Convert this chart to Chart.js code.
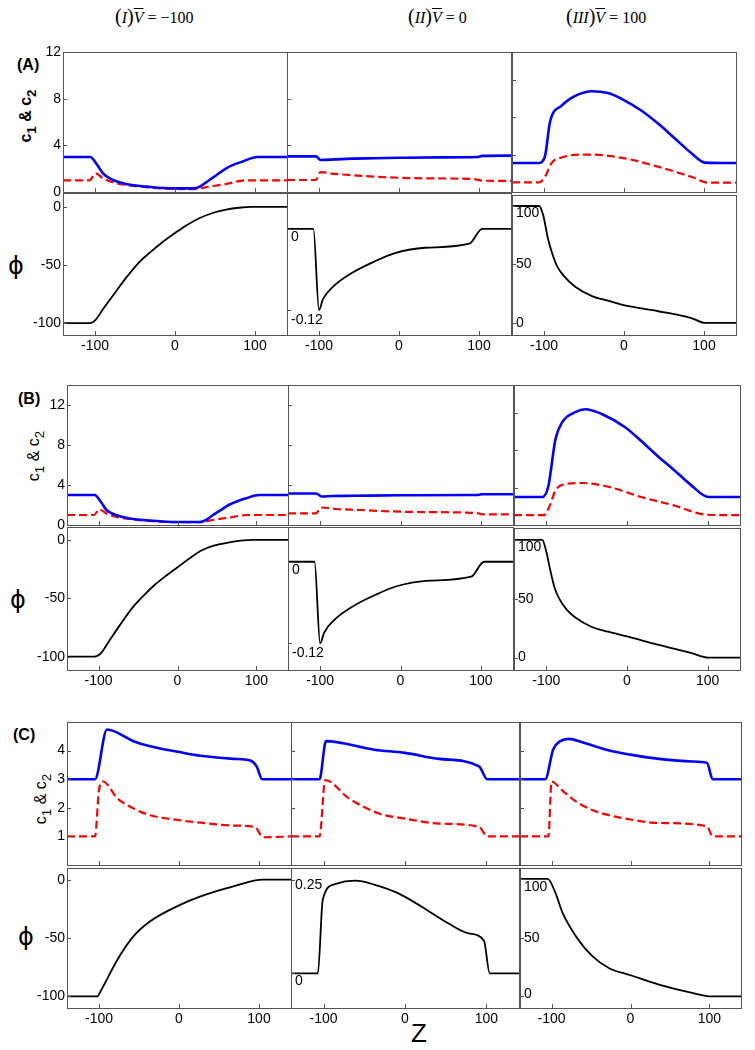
<!DOCTYPE html>
<html lang="en">
<head>
  <meta charset="UTF-8">
  <title>c1, c2 and phi profiles</title>
  <script src="https://cdn.jsdelivr.net/npm/chart.js"></script>
  <style>
    body { margin: 0; background: #fff; }
    #fig { position: relative; width: 755px; height: 1050px; }
    #fig canvas { position: absolute; }
    .ttl { position: absolute; font-family: 'Liberation Serif', 'Times New Roman', serif; font-size: 16px; white-space: nowrap; }
    .ttl .p { font-size: 20px; }
    .ttl .v { text-decoration: overline; }
    .tag { position: absolute; font: bold 16px 'Liberation Sans', Arial, sans-serif; }
    .rot { position: absolute; white-space: nowrap; font-family: 'Liberation Sans', Arial, sans-serif; font-size: 16px;
           transform: translate(-50%, -50%) rotate(-90deg); }
    .phi { position: absolute; font: 24px 'DejaVu Sans', 'Liberation Sans', sans-serif; transform: translate(-50%, -50%); }
  </style>
</head>
<body>
<div id="fig">
  <div class="ttl" style="left:115px;top:5px"><span class="p">(</span><i>I</i><span class="p">)</span><i class="v">V</i> = −100</div>
  <div class="ttl" style="left:408px;top:5px"><span class="p">(</span><i>II</i><span class="p">)</span><i class="v">V</i> = 0</div>
  <div class="ttl" style="left:566px;top:5px"><span class="p">(</span><i>III</i><span class="p">)</span><i class="v">V</i> = 100</div>

  <div class="tag" style="left:17px;top:56px">(A)</div>
  <div class="tag" style="left:18px;top:390px">(B)</div>
  <div class="tag" style="left:13px;top:726px">(C)</div>

  <div class="rot" style="left:28px;top:116px;font-weight:bold">c<sub>1</sub> &amp; c<sub>2</sub></div>
  <div class="rot" style="left:36px;top:456px">c<sub>1</sub> &amp; c<sub>2</sub></div>
  <div class="rot" style="left:43px;top:799px">c<sub>1</sub> &amp; c<sub>2</sub></div>

  <div class="phi" style="left:16px;top:266px">ϕ</div>
  <div class="phi" style="left:18px;top:600px">ϕ</div>
  <div class="phi" style="left:26px;top:937px">ϕ</div>

  <div style="position:absolute;left:411px;top:1018px;font:26px 'Liberation Sans',Arial,sans-serif">Z</div>
</div>

<script>
  // axis ticks
  const Z_RANGE = [-140, 140];
  const Z_TICKS = [-100, 0, 100];
  const C_TICKS_AB = [0, 4, 8, 12];
  const C_TICKS_C = [1, 2, 3, 4];
  const PHI_TICKS_I = [0, -50, -100];
  const PHI_TICKS_II_AB = [0, -0.12];
  const PHI_LABELS_II_AB = ['0', '-0.12'];
  const PHI_TICKS_II_C = [0.25, 0];
  const PHI_LABELS_II_C = ['0.25', '0'];
  const PHI_TICKS_III = [100, 50, 0];
  const PHI_LABELS_III = ['100', '50', '0'];

  // (A) series, [z, value]
  const A1_c1 = [[-140,3],[-106,3],[-97,2.3],[-90,1.6],[-80,1.1],[-60,0.66],[-35,0.46],[-2,0.31],[23,0.31],[31,0.46],[43,1.03],[52,1.46],[64,2.03],[72,2.3],[84,2.6],[103,3],[140,3]];
  const A1_c2 = [[-140,1],[-107,1],[-99,1.6],[-90,1.17],[-80,0.88],[-60,0.6],[-35,0.4],[-2,0.26],[23,0.25],[43,0.46],[64,0.69],[88,1.0],[105,1.0],[140,1]];
  const A1_phi = [[-140,-100],[-106,-100],[-99,-97],[-90,-88],[-73,-72],[-60,-60],[-44,-47],[-30,-38.5],[-15,-30],[0,-22.5],[15,-15.5],[31,-9.5],[48,-5],[64,-2.3],[80,-0.7],[95,0],[140,0]];
  const A2_c1 = [[-140,3.05],[-104,3.05],[-98,2.74],[-79,2.8],[-59,2.86],[-30,2.89],[0,2.93],[50,2.97],[98,3.0],[104,3.1],[140,3.12]];
  const A2_c2 = [[-140,1.03],[-104,1.03],[-98,1.7],[-80,1.55],[-60,1.45],[-30,1.31],[30,1.17],[94,1.11],[104,0.97],[140,0.95]];
  const A2_phi = [[-140,0],[-107,0],[-100,-0.12],[-95,-0.104],[-82,-0.085],[-60,-0.066],[-30,-0.048],[-5,-0.036],[32,-0.028],[88,-0.022],[104,0],[140,0]];
  const A3_c1 = [[-140,3.1],[-107,3.1],[-99,3.75],[-92.5,7.5],[-78,9.25],[-61,10.3],[-40,10.8],[-20,10.6],[1,9.8],[22,8.7],[43,7.3],[64,5.7],[85,4.1],[101,3.15],[140,3.1]];
  const A3_c2 = [[-140,1.03],[-106,1.03],[-99,1.6],[-90.5,3.1],[-78,3.7],[-53,4.0],[-40,4.0],[1,3.6],[43,2.7],[85,1.6],[105,1.0],[140,1.0]];
  const A3_phi = [[-140,100],[-106,100],[-101,92],[-95,72],[-90,60],[-84,49],[-75,40],[-61,31],[-40,23],[-20,19],[1,15],[43,10],[85,4],[101,0],[140,0]];

  // (B) series
  const B1_c1 = [[-140,3],[-105,3],[-97,2.3],[-90,1.5],[-80,1.05],[-60,0.65],[-35,0.45],[-2,0.3],[28,0.3],[35,0.45],[45,1.0],[55,1.5],[66,2.05],[75,2.35],[86,2.65],[104,3],[140,3]];
  const B1_c2 = [[-140,1],[-106,1],[-99,1.55],[-90,1.15],[-80,0.85],[-60,0.6],[-35,0.4],[0,0.28],[28,0.28],[45,0.5],[65,0.75],[90,1.0],[140,1.0]];
  const B1_phi = [[-140,-100],[-105,-100],[-97,-97],[-88,-88],[-73,-73],[-57,-58],[-42,-47],[-28,-38],[-14,-30.5],[0,-23.5],[15,-16],[29,-9.5],[46,-5],[64,-2.4],[80,-0.7],[96,0],[140,0]];
  const B2_c1 = [[-140,3.15],[-105,3.15],[-98,2.85],[-85,2.9],[-60,2.92],[0,2.97],[95,3.0],[101,3.07],[140,3.07]];
  const B2_c2 = [[-140,1.17],[-105,1.17],[-99,1.75],[-80,1.6],[-50,1.5],[-30,1.42],[20,1.3],[95,1.2],[102,1.07],[140,1.07]];
  const B2_phi = [[-140,0],[-107,0],[-100,-0.12],[-95,-0.104],[-82,-0.085],[-60,-0.066],[-30,-0.048],[-5,-0.036],[32,-0.028],[88,-0.022],[104,0],[140,0]];
  const B3_c1 = [[-140,3],[-105,3],[-97.6,4.1],[-88.6,9.2],[-80.4,11],[-64,12.1],[-51.8,12.4],[-31.4,11.9],[-2.8,10.5],[17.6,9],[37.8,7.4],[58.2,5.9],[79,4.3],[101,3],[140,3]];
  const B3_c2 = [[-140,1.05],[-103,1.05],[-96,2],[-88.6,3.7],[-76,4.4],[-56,4.5],[-23.5,4.1],[17.6,3],[58,2.1],[99,1.1],[140,1.05]];
  const B3_phi = [[-140,100],[-105,100],[-100,90],[-95,74],[-90,60],[-84,50],[-75,41],[-64,34],[-43.5,26],[-23.5,22],[0,18],[38,11],[79,4],[101,0],[140,0]];

  // (C) series
  const C1_c1 = [[-140,3],[-105,3],[-90,4.74],[-57,4.33],[-36,4.15],[2,3.94],[27,3.82],[68,3.71],[89,3.65],[97,3.45],[104,3],[140,3]];
  const C1_c2 = [[-140,1],[-105,1],[-100,2.62],[-95,2.92],[-77,2.33],[-57,1.98],[-36,1.74],[2,1.56],[27,1.48],[68,1.38],[95,1.33],[105,0.97],[140,1]];
  const C1_phi = [[-140,-100],[-102,-100],[-98,-95.7],[-77,-68.6],[-57,-48.6],[-36,-35.7],[2,-21.4],[27,-14.3],[68,-5.7],[105,0],[140,0]];
  const C2_c1 = [[-140,3],[-105,3],[-97,4.33],[-38,4.03],[0,3.92],[42,3.71],[91,3.45],[101,3],[140,3]];
  const C2_c2 = [[-140,1],[-105,1],[-98,2.97],[-69,2.33],[-32,1.8],[0,1.62],[42,1.45],[91,1.33],[101,1],[140,1]];
  const C2_phi = [[-140,0],[-107,0],[-101,0.197],[-86,0.239],[-61,0.248],[-37,0.237],[-8,0.214],[20,0.179],[53,0.134],[78,0.107],[97,0.087],[104,0],[140,0]];
  const C3_c1 = [[-140,3],[-108,3],[-98,4.04],[-89,4.33],[-78,4.41],[-61,4.29],[-27,4.0],[0,3.86],[36,3.71],[78,3.62],[97,3.57],[104,3],[140,3]];
  const C3_c2 = [[-140,1],[-104,1],[-100,2.92],[-87,2.62],[-70,2.24],[-48.5,1.92],[-27,1.74],[0,1.59],[36,1.47],[97,1.35],[104,1],[140,1]];
  const C3_phi = [[-140,100],[-105,100],[-95,88],[-86,71],[-69,51],[-48,34],[-27,24],[0,18],[36,10],[78,3],[103,0],[140,0]];

  Chart.defaults.font.family = "'Liberation Sans', Arial, sans-serif";
  Chart.defaults.font.size = 14;
  Chart.defaults.color = '#000';

  // box round the plot area, inward tick marks, labels written inside the axis
  Chart.register({
    id: 'frame',
    afterDatasetsDraw(chart, args, o) {
      const { ctx, chartArea: a, scales } = chart;
      ctx.save();
      ctx.strokeStyle = '#555';
      ctx.lineWidth = 1;
      ctx.strokeRect(a.left + 0.5, a.top + 0.5, a.right - a.left, a.bottom - a.top);
      ctx.beginPath();
      scales.x.ticks.forEach(t => {
        const px = Math.round(scales.x.getPixelForValue(t.value)) + 0.5;
        ctx.moveTo(px, a.bottom); ctx.lineTo(px, a.bottom - 4);
      });
      scales.y.ticks.forEach(t => {
        const py = Math.round(scales.y.getPixelForValue(t.value)) + 0.5;
        ctx.moveTo(a.left, py); ctx.lineTo(a.left + 4, py);
      });
      ctx.stroke();
      if (o.inner) {
        ctx.fillStyle = '#000';
        ctx.font = "14px 'Liberation Sans', Arial, sans-serif";
        ctx.textBaseline = 'middle';
        scales.y.ticks.forEach((t, i) => {
          ctx.fillText(o.inner.text[i], a.left + 4, scales.y.getPixelForValue(t.value) + o.inner.dy[i]);
        });
      }
      ctx.restore();
    }
  });

  const fig = document.getElementById('fig');
  const ML = 48, MR = 6, MT = 12, MB = 24;

  function line(pts, kind) {
    const base = { data: pts.map(p => ({ x: p[0], y: p[1] })), pointRadius: 0, cubicInterpolationMode: 'monotone', fill: false };
    if (kind === 'c1') return { ...base, borderColor: '#0000ff', borderWidth: 2.6 };
    if (kind === 'c2') return { ...base, borderColor: '#ff0000', borderWidth: 2.2, borderDash: [8, 4] };
    return { ...base, borderColor: '#000', borderWidth: 1.8 };
  }

  function panel(box, ySpan, yTicks, sets, o) {
    const [l, t, r, b] = box;
    const cv = document.createElement('canvas');
    cv.width = r - l + ML + MR;
    cv.height = b - t + MT + MB;
    cv.style.left = (l - ML) + 'px';
    cv.style.top = (t - MT) + 'px';
    fig.appendChild(cv);
    new Chart(cv, {
      type: 'line',
      data: { datasets: sets },
      options: {
        responsive: false,
        animation: false,
        devicePixelRatio: 1,
        layout: { padding: { top: MT, right: MR, left: 0, bottom: 0 } },
        plugins: { legend: { display: false }, tooltip: { enabled: false }, frame: { inner: o.inner || null } },
        scales: {
          x: {
            type: 'linear', min: Z_RANGE[0], max: Z_RANGE[1],
            afterBuildTicks: s => { s.ticks = Z_TICKS.map(v => ({ value: v })); },
            afterFit: s => { s.height = MB; },
            grid: { display: false, drawTicks: false }, border: { display: false },
            ticks: { display: !!o.xLabels, padding: 3, maxRotation: 0, autoSkip: false }
          },
          y: {
            type: 'linear', min: ySpan[0], max: ySpan[1],
            afterBuildTicks: s => { s.ticks = yTicks.map(v => ({ value: v })); },
            afterFit: s => { s.width = ML; },
            grid: { display: false, drawTicks: false }, border: { display: false },
            ticks: { display: !!o.yLabels, padding: 2, autoSkip: false }
          }
        }
      }
    });
  }

  // (A)
  panel([63, 52, 287, 192], [0, 12], C_TICKS_AB, [line(A1_c1, 'c1'), line(A1_c2, 'c2')], { yLabels: true });
  panel([287, 52, 511, 192], [0, 12], C_TICKS_AB, [line(A2_c1, 'c1'), line(A2_c2, 'c2')], {});
  panel([512, 52, 736, 192], [0, 15], C_TICKS_AB, [line(A3_c1, 'c1'), line(A3_c2, 'c2')], {});
  panel([63, 193, 287, 335], [-110.3, 12], PHI_TICKS_I, [line(A1_phi)], { yLabels: true, xLabels: true });
  panel([287, 193, 511, 335], [-0.157, 0.053], PHI_TICKS_II_AB, [line(A2_phi)],
        { xLabels: true, inner: { text: PHI_LABELS_II_AB, dy: [8, 10] } });
  panel([512, 195, 736, 335], [-10.3, 109.4], PHI_TICKS_III, [line(A3_phi)],
        { xLabels: true, inner: { text: PHI_LABELS_III, dy: [7, 0, 0] } });

  // (B)
  panel([67, 385, 288, 525], [0, 14], C_TICKS_AB, [line(B1_c1, 'c1'), line(B1_c2, 'c2')], { yLabels: true });
  panel([288, 385, 513, 525], [0, 14], C_TICKS_AB, [line(B2_c1, 'c1'), line(B2_c2, 'c2')], {});
  panel([514, 385, 740, 525], [0, 15], C_TICKS_AB, [line(B3_c1, 'c1'), line(B3_c2, 'c2')], {});
  panel([67, 527, 288, 670], [-111.4, 11], PHI_TICKS_I, [line(B1_phi)], { yLabels: true, xLabels: true });
  panel([288, 527, 513, 670], [-0.159, 0.051], PHI_TICKS_II_AB, [line(B2_phi)],
        { xLabels: true, inner: { text: PHI_LABELS_II_AB, dy: [8, 10] } });
  panel([514, 528, 740, 670], [-10.5, 110], PHI_TICKS_III, [line(B3_phi)],
        { xLabels: true, inner: { text: PHI_LABELS_III, dy: [7, 0, 0] } });

  // (C)
  panel([67, 722, 291, 865], [0, 5], C_TICKS_C, [line(C1_c1, 'c1'), line(C1_c2, 'c2')], { yLabels: true });
  panel([291, 722, 519, 865], [0, 5], C_TICKS_C, [line(C2_c1, 'c1'), line(C2_c2, 'c2')], {});
  panel([520, 722, 741, 865], [0, 5], C_TICKS_C, [line(C3_c1, 'c1'), line(C3_c2, 'c2')], {});
  panel([67, 868, 291, 1008], [-110, 10], PHI_TICKS_I, [line(C1_phi)], { yLabels: true, xLabels: true });
  panel([291, 868, 519, 1008], [-0.093, 0.282], PHI_TICKS_II_C, [line(C2_phi)],
        { xLabels: true, inner: { text: PHI_LABELS_II_C, dy: [5, 8] } });
  panel([520, 868, 741, 1008], [-9.9, 109.3], PHI_TICKS_III, [line(C3_phi)],
        { xLabels: true, inner: { text: PHI_LABELS_III, dy: [8, 0, -2] } });
</script>
</body>
</html>
